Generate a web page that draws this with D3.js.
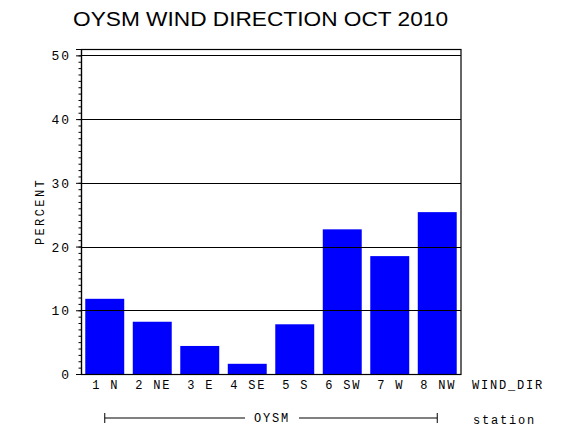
<!DOCTYPE html>
<html>
<head>
<meta charset="utf-8">
<script src="https://cdn.jsdelivr.net/npm/d3@7"></script>
<style>
  body { margin: 0; background: #fff; }
  svg { display: block; }
  text { font-family: "Liberation Mono", "DejaVu Sans Mono", monospace; fill: #000; }
</style>
</head>
<body>
<div id="chart-area"></div>
<script>
// data
let directions = ["1 N", "2 NE", "3 E", "4 SE", "5 S", "6 SW", "7 W", "8 NW"];
let percents = [11.8, 8.2, 4.4, 1.6, 7.8, 22.7, 18.5, 25.4];
let majorTicks = [0, 10, 20, 30, 40, 50];
let titleText = "OYSM WIND DIRECTION OCT 2010";
let stationName = "OYSM";

let width_raw = 570,
	height_raw = 430;

let margin = {top: 49, right: 109, bottom: 56, left: 81};

let width = width_raw - margin.left - margin.right,
	height = height_raw - margin.top - margin.bottom;

let data = directions.map((d, i) => ({dir: d, pct: percents[i]}));

let svg = d3.select("#chart-area")
	.append("svg")
	.attr("width", width_raw)
	.attr("height", height_raw);

// title
svg.append("text")
	.attr("x", 260.5)
	.attr("y", 26)
	.attr("text-anchor", "middle")
	.style("font-family", "'Liberation Sans', Arial, sans-serif")
	.style("font-size", "20px")
	.attr("textLength", 375)
	.attr("lengthAdjust", "spacingAndGlyphs")
	.text(titleText);

let g = svg.append("g")
	.attr("transform", "translate(" + margin.left + "," + margin.top + ")");

let x = d3.scaleBand()
	.domain(directions)
	.range([0, width])
	.paddingInner(0.18)
	.paddingOuter(0.09);

let y = d3.scaleLinear()
	.domain([0, 51])
	.range([height, 0]);

// bars
g.selectAll("rect.bar")
	.data(data)
	.enter()
	.append("rect")
	.attr("class", "bar")
	.attr("x", d => x(d.dir))
	.attr("y", d => y(d.pct))
	.attr("width", x.bandwidth())
	.attr("height", d => y(0) - y(d.pct))
	.attr("fill", "#0000ff");

// grid lines
g.selectAll("line.grid")
	.data(majorTicks.filter(t => t > 0))
	.enter()
	.append("line")
	.attr("class", "grid")
	.attr("x1", 0)
	.attr("x2", width)
	.attr("y1", d => Math.round(y(d)) + 0.5)
	.attr("y2", d => Math.round(y(d)) + 0.5)
	.attr("stroke", "#000")
	.attr("stroke-width", 1.2);

// frame
g.append("rect")
	.attr("x", 0.5)
	.attr("y", 0.5)
	.attr("width", width - 0.5)
	.attr("height", height)
	.attr("fill", "none")
	.attr("stroke", "#000")
	.attr("stroke-width", 1.2);

// minor ticks (every unit)
let minorAxis = d3.axisLeft(y)
	.tickValues(d3.range(0, 51, 1))
	.tickSize(2.5)
	.tickFormat("");

g.append("g")
	.attr("class", "axis minor")
	.call(minorAxis)
	.call(a => a.select(".domain").remove())
	.selectAll("line").attr("stroke", "#000");

// major ticks with labels
let yAxis = d3.axisLeft(y)
	.tickValues(majorTicks)
	.tickSize(5)
	.tickPadding(5)
	.tickFormat(d3.format("d"));

let yGroup = g.append("g")
	.attr("class", "axis y-axis")
	.call(yAxis);

yGroup.select(".domain").attr("stroke", "#000").attr("stroke-width", 1.2);
yGroup.selectAll("line").attr("stroke", "#000");
yGroup.selectAll("text")
	.style("font-family", "'Liberation Mono', monospace")
	.style("font-size", "13px")
	.style("letter-spacing", "2px")
	.attr("dy", "0.35em");

// y label
svg.append("text")
	.attr("transform", "translate(44," + (margin.top + height / 2) + ") rotate(-90)")
	.attr("text-anchor", "middle")
	.style("font-size", "12px")
	.style("letter-spacing", "2.4px")
	.text("PERCENT");

// category labels
g.selectAll("text.cat")
	.data(data)
	.enter()
	.append("text")
	.attr("class", "cat")
	.attr("x", d => x(d.dir) + x.bandwidth() / 2 + 1)
	.attr("y", height + 15)
	.attr("text-anchor", "middle")
	.style("font-size", "12px")
	.style("letter-spacing", "1.8px")
	.text(d => d.dir);

g.append("text")
	.attr("x", width + 11)
	.attr("y", height + 15)
	.style("font-size", "12px")
	.style("letter-spacing", "1.8px")
	.text("WIND_DIR");

// station bracket
let c1 = x(directions[0]) + x.bandwidth() / 2,
	c2 = x(directions[directions.length - 1]) + x.bandwidth() / 2,
	mid = width / 2,
	by = height + 44;

let bracket = g.append("g").attr("stroke", "#000").attr("stroke-width", 1);
bracket.append("line").attr("x1", c1).attr("x2", mid - 26).attr("y1", by).attr("y2", by);
bracket.append("line").attr("x1", mid + 28).attr("x2", c2).attr("y1", by).attr("y2", by);
bracket.append("line").attr("x1", c1).attr("x2", c1).attr("y1", by - 5).attr("y2", by + 5);
bracket.append("line").attr("x1", c2).attr("x2", c2).attr("y1", by - 5).attr("y2", by + 5);

g.append("text")
	.attr("x", mid + 1)
	.attr("y", by + 4)
	.attr("text-anchor", "middle")
	.style("font-size", "12px")
	.style("letter-spacing", "1.8px")
	.text(stationName);

g.append("text")
	.attr("x", width + 12)
	.attr("y", by + 6)
	.style("font-size", "12px")
	.style("letter-spacing", "1.8px")
	.text("station");
</script>
</body>
</html>
